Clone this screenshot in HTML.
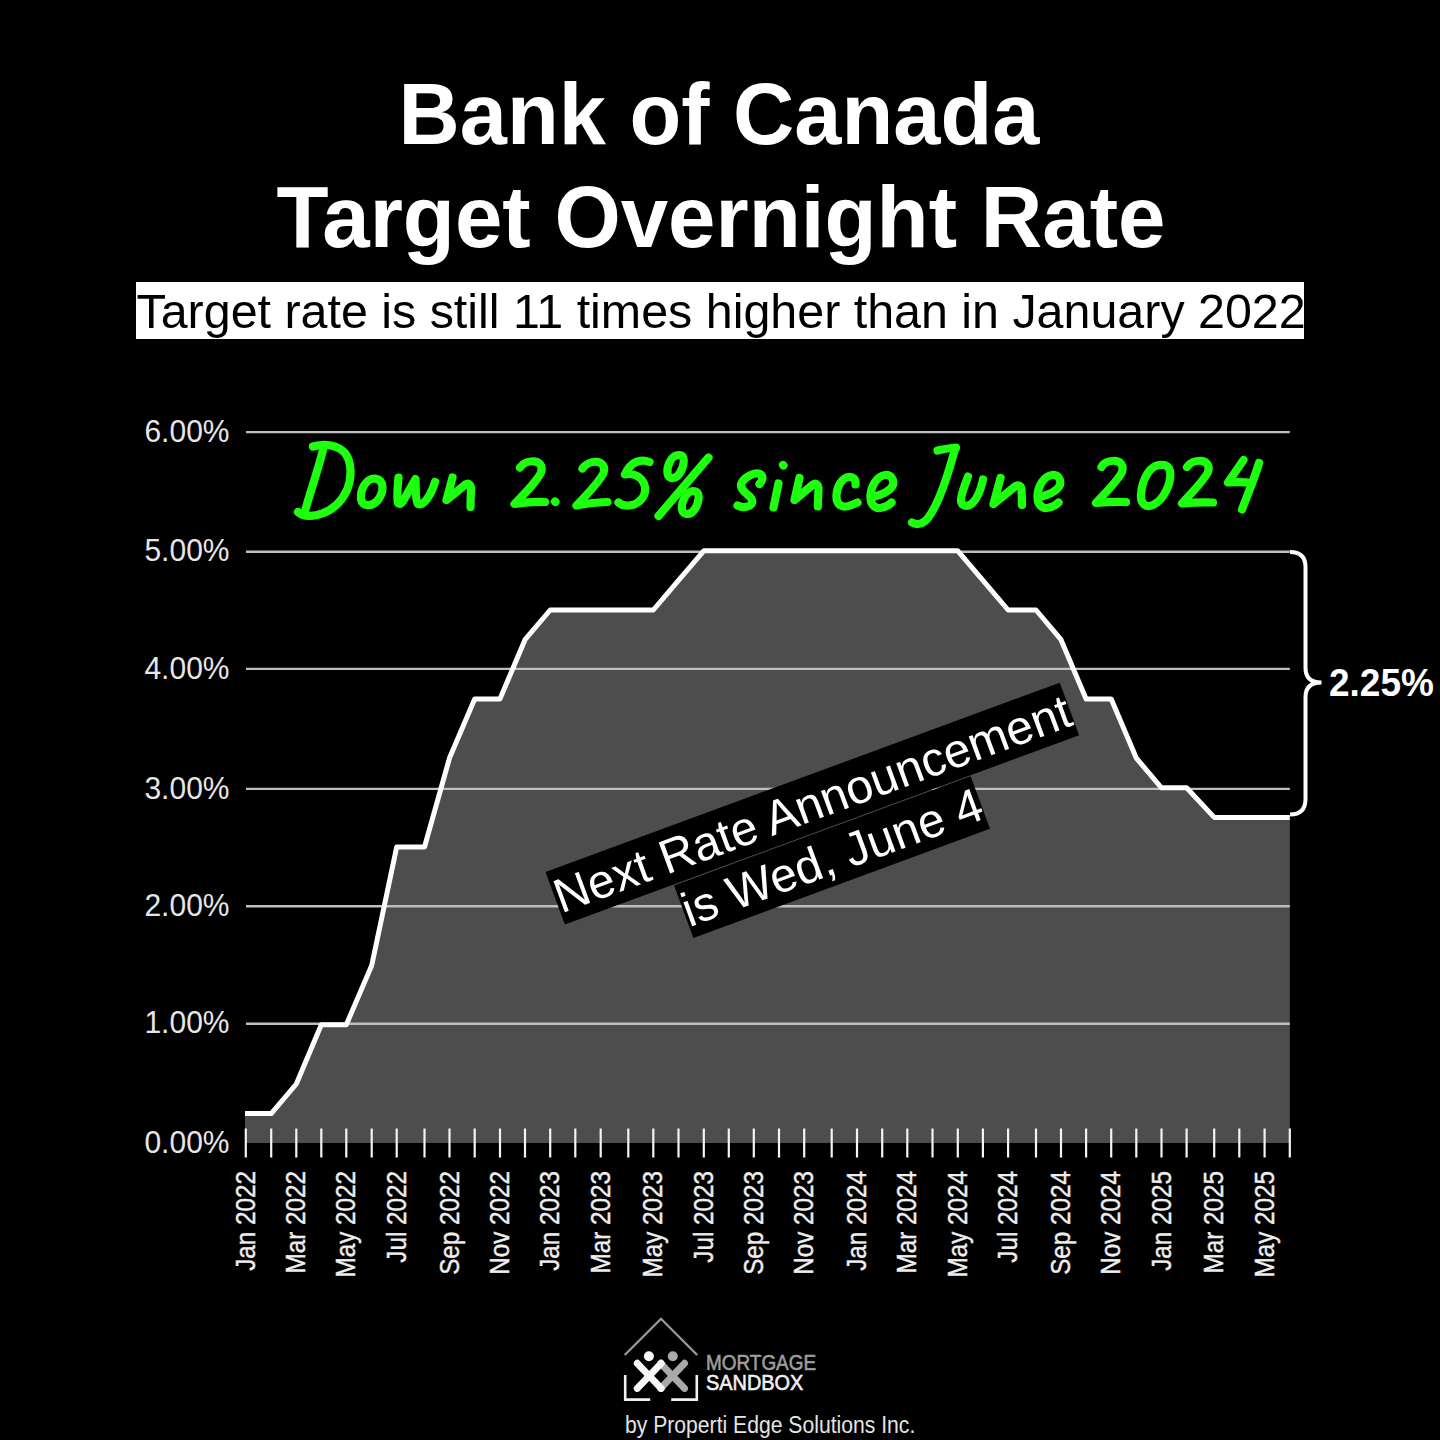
<!DOCTYPE html>
<html><head><meta charset="utf-8"><style>
*{margin:0;padding:0;box-sizing:border-box}
html,body{width:1440px;height:1440px;background:#000;overflow:hidden}
body{position:relative;font-family:"Liberation Sans",sans-serif;color:#fff}
.t{position:absolute;left:0;width:1440px;text-align:center;font-weight:bold;font-size:85px;line-height:85px;white-space:nowrap;color:#fff;transform-origin:720px 71.95px;transform:scale(0.996,1.03)}
.sub{position:absolute;left:136px;top:282px;width:1168px;height:57px;background:#fff}
.sub span{position:absolute;left:0.5px;top:5.3px;font-size:48px;line-height:48px;color:#000;white-space:nowrap}
.yl{position:absolute;right:1210.5px;font-size:30px;line-height:30px;color:#e6e6e6;white-space:nowrap;transform-origin:100% 25.4px;transform:scaleY(1.04)}
.xl{position:absolute;top:1171px;width:0;height:0;transform-origin:0 0;transform:rotate(-90deg) scaleX(0.905)}
.xl span{position:absolute;right:0;top:-12.6px;font-size:26.8px;line-height:26.8px;color:#eee;white-space:nowrap;-webkit-text-stroke:0.4px #eee}
.sub span{font-size:48.4px !important}
.lg{position:absolute;white-space:nowrap;transform-origin:0 0}
.r225{position:absolute;left:1329px;font-weight:bold;font-size:37px;line-height:37px;white-space:nowrap;transform-origin:0 31.3px;transform:scaleY(1.027)}
.ann{position:absolute;left:0;top:0;width:800px;text-align:center;font-size:48px;line-height:57px;transform-origin:0 0}
.ann span{background:#000;color:#fff;padding:1.5px 0;white-space:nowrap}
svg{position:absolute;left:0;top:0}
</style></head><body>
<div class="t" style="top:72.25px;left:-1.4px;transform:scale(0.9975,1.03)">Bank of Canada</div>
<div class="t" style="top:174.75px;left:1px;transform:scale(1.003,1.03)">Target Overnight Rate</div>
<div class="sub"><span>Target rate is still 11 times higher than in January 2022</span></div>
<svg width="1440" height="1440" viewBox="0 0 1440 1440">
<path d="M245.0 1113.6 L271.2 1113.6 L296.3 1084.0 L321.3 1024.7 L346.3 1024.7 L371.7 965.5 L396.7 847.0 L424.5 847.0 L449.5 758.1 L474.7 698.9 L500.0 698.9 L525.0 639.7 L550.2 610.0 L575.3 610.0 L600.7 610.0 L628.3 610.0 L653.3 610.0 L678.5 580.4 L703.8 550.8 L728.8 550.8 L753.8 550.8 L779.0 550.8 L804.2 550.8 L831.7 550.8 L857.0 550.8 L882.2 550.8 L907.3 550.8 L932.5 550.8 L957.8 550.8 L982.9 580.4 L1008.1 610.0 L1036.0 610.0 L1061.0 639.7 L1086.1 698.9 L1111.2 698.9 L1136.3 758.1 L1161.5 787.8 L1186.6 787.8 L1214.2 817.4 L1239.3 817.4 L1264.6 817.4 L1289.8 817.4 L1289.8 1143 L245.0 1143 Z" fill="#4d4d4d"/>
<line x1="246" y1="1023.7" x2="1289.8" y2="1023.7" stroke="#bebebe" stroke-width="2.4"/>
<line x1="246" y1="906.3" x2="1289.8" y2="906.3" stroke="#bebebe" stroke-width="2.4"/>
<line x1="246" y1="788.9" x2="1289.8" y2="788.9" stroke="#bebebe" stroke-width="2.4"/>
<line x1="246" y1="668.9" x2="1289.8" y2="668.9" stroke="#bebebe" stroke-width="2.4"/>
<line x1="246" y1="551.7" x2="1289.8" y2="551.7" stroke="#bebebe" stroke-width="2.4"/>
<line x1="246" y1="432.1" x2="1289.8" y2="432.1" stroke="#bebebe" stroke-width="2.4"/>
<line x1="245.8" y1="1128.5" x2="245.8" y2="1157.5" stroke="#f4f4f4" stroke-width="2.2"/>
<line x1="271.2" y1="1128.5" x2="271.2" y2="1157.5" stroke="#f4f4f4" stroke-width="2.2"/>
<line x1="296.3" y1="1128.5" x2="296.3" y2="1157.5" stroke="#f4f4f4" stroke-width="2.2"/>
<line x1="321.3" y1="1128.5" x2="321.3" y2="1157.5" stroke="#f4f4f4" stroke-width="2.2"/>
<line x1="346.3" y1="1128.5" x2="346.3" y2="1157.5" stroke="#f4f4f4" stroke-width="2.2"/>
<line x1="371.7" y1="1128.5" x2="371.7" y2="1157.5" stroke="#f4f4f4" stroke-width="2.2"/>
<line x1="396.7" y1="1128.5" x2="396.7" y2="1157.5" stroke="#f4f4f4" stroke-width="2.2"/>
<line x1="424.5" y1="1128.5" x2="424.5" y2="1157.5" stroke="#f4f4f4" stroke-width="2.2"/>
<line x1="449.5" y1="1128.5" x2="449.5" y2="1157.5" stroke="#f4f4f4" stroke-width="2.2"/>
<line x1="474.7" y1="1128.5" x2="474.7" y2="1157.5" stroke="#f4f4f4" stroke-width="2.2"/>
<line x1="500" y1="1128.5" x2="500" y2="1157.5" stroke="#f4f4f4" stroke-width="2.2"/>
<line x1="525" y1="1128.5" x2="525" y2="1157.5" stroke="#f4f4f4" stroke-width="2.2"/>
<line x1="550.2" y1="1128.5" x2="550.2" y2="1157.5" stroke="#f4f4f4" stroke-width="2.2"/>
<line x1="575.3" y1="1128.5" x2="575.3" y2="1157.5" stroke="#f4f4f4" stroke-width="2.2"/>
<line x1="600.7" y1="1128.5" x2="600.7" y2="1157.5" stroke="#f4f4f4" stroke-width="2.2"/>
<line x1="628.3" y1="1128.5" x2="628.3" y2="1157.5" stroke="#f4f4f4" stroke-width="2.2"/>
<line x1="653.3" y1="1128.5" x2="653.3" y2="1157.5" stroke="#f4f4f4" stroke-width="2.2"/>
<line x1="678.5" y1="1128.5" x2="678.5" y2="1157.5" stroke="#f4f4f4" stroke-width="2.2"/>
<line x1="703.8" y1="1128.5" x2="703.8" y2="1157.5" stroke="#f4f4f4" stroke-width="2.2"/>
<line x1="728.8" y1="1128.5" x2="728.8" y2="1157.5" stroke="#f4f4f4" stroke-width="2.2"/>
<line x1="753.8" y1="1128.5" x2="753.8" y2="1157.5" stroke="#f4f4f4" stroke-width="2.2"/>
<line x1="779" y1="1128.5" x2="779" y2="1157.5" stroke="#f4f4f4" stroke-width="2.2"/>
<line x1="804.2" y1="1128.5" x2="804.2" y2="1157.5" stroke="#f4f4f4" stroke-width="2.2"/>
<line x1="831.7" y1="1128.5" x2="831.7" y2="1157.5" stroke="#f4f4f4" stroke-width="2.2"/>
<line x1="857" y1="1128.5" x2="857" y2="1157.5" stroke="#f4f4f4" stroke-width="2.2"/>
<line x1="882.2" y1="1128.5" x2="882.2" y2="1157.5" stroke="#f4f4f4" stroke-width="2.2"/>
<line x1="907.3" y1="1128.5" x2="907.3" y2="1157.5" stroke="#f4f4f4" stroke-width="2.2"/>
<line x1="932.5" y1="1128.5" x2="932.5" y2="1157.5" stroke="#f4f4f4" stroke-width="2.2"/>
<line x1="957.8" y1="1128.5" x2="957.8" y2="1157.5" stroke="#f4f4f4" stroke-width="2.2"/>
<line x1="982.9" y1="1128.5" x2="982.9" y2="1157.5" stroke="#f4f4f4" stroke-width="2.2"/>
<line x1="1008.1" y1="1128.5" x2="1008.1" y2="1157.5" stroke="#f4f4f4" stroke-width="2.2"/>
<line x1="1036" y1="1128.5" x2="1036" y2="1157.5" stroke="#f4f4f4" stroke-width="2.2"/>
<line x1="1061" y1="1128.5" x2="1061" y2="1157.5" stroke="#f4f4f4" stroke-width="2.2"/>
<line x1="1086.1" y1="1128.5" x2="1086.1" y2="1157.5" stroke="#f4f4f4" stroke-width="2.2"/>
<line x1="1111.2" y1="1128.5" x2="1111.2" y2="1157.5" stroke="#f4f4f4" stroke-width="2.2"/>
<line x1="1136.3" y1="1128.5" x2="1136.3" y2="1157.5" stroke="#f4f4f4" stroke-width="2.2"/>
<line x1="1161.5" y1="1128.5" x2="1161.5" y2="1157.5" stroke="#f4f4f4" stroke-width="2.2"/>
<line x1="1186.6" y1="1128.5" x2="1186.6" y2="1157.5" stroke="#f4f4f4" stroke-width="2.2"/>
<line x1="1214.2" y1="1128.5" x2="1214.2" y2="1157.5" stroke="#f4f4f4" stroke-width="2.2"/>
<line x1="1239.3" y1="1128.5" x2="1239.3" y2="1157.5" stroke="#f4f4f4" stroke-width="2.2"/>
<line x1="1264.6" y1="1128.5" x2="1264.6" y2="1157.5" stroke="#f4f4f4" stroke-width="2.2"/>
<line x1="1289.8" y1="1128.5" x2="1289.8" y2="1157.5" stroke="#f4f4f4" stroke-width="2.2"/>
<path d="M245.0 1113.6 L271.2 1113.6 L296.3 1084.0 L321.3 1024.7 L346.3 1024.7 L371.7 965.5 L396.7 847.0 L424.5 847.0 L449.5 758.1 L474.7 698.9 L500.0 698.9 L525.0 639.7 L550.2 610.0 L575.3 610.0 L600.7 610.0 L628.3 610.0 L653.3 610.0 L678.5 580.4 L703.8 550.8 L728.8 550.8 L753.8 550.8 L779.0 550.8 L804.2 550.8 L831.7 550.8 L857.0 550.8 L882.2 550.8 L907.3 550.8 L932.5 550.8 L957.8 550.8 L982.9 580.4 L1008.1 610.0 L1036.0 610.0 L1061.0 639.7 L1086.1 698.9 L1111.2 698.9 L1136.3 758.1 L1161.5 787.8 L1186.6 787.8 L1214.2 817.4 L1239.3 817.4 L1264.6 817.4 L1289.8 817.4" fill="none" stroke="#ffffff" stroke-width="5" stroke-linejoin="round"/>
<g>
<polyline points="624.7,1355 661,1318.8 697.2,1355" fill="none" stroke="#9a9a9a" stroke-width="2.3"/>
<polyline points="625.2,1375 625.2,1399.6 650.2,1399.6" fill="none" stroke="#f0f0f0" stroke-width="2.6"/>
<polyline points="671.2,1399.6 696.8,1399.6 696.8,1375" fill="none" stroke="#f0f0f0" stroke-width="2.6"/>
<g stroke="#a9a9a9" stroke-width="7" stroke-linecap="round"><line x1="660.6" y1="1363.3" x2="684.5" y2="1388.4"/><line x1="684.5" y1="1363.3" x2="660.6" y2="1388.4"/></g>
<circle cx="672.8" cy="1356.3" r="5" fill="#a9a9a9"/>
<g stroke="#f8f8f8" stroke-width="7" stroke-linecap="round"><line x1="637.3" y1="1363.3" x2="661.2" y2="1388.4"/><line x1="661.2" y1="1363.3" x2="637.3" y2="1388.4"/></g>
<circle cx="648.9" cy="1356.3" r="5" fill="#f8f8f8"/>
</g>
<g fill="none" stroke="#1eff10" stroke-width="8.2" stroke-linecap="round" stroke-linejoin="round"><path d="M323 450 C318 470 310 493 305 511"/><path d="M313 446.5 C325 443 338 445 345 453 C352 462 352 478 347 490 C341 503 330 512 317 515 C309 516.5 302 516 298 512"/><path d="M375 478.5 C366 478 360 490 361 499 C362 507 372 507 378 500 C384 492 385 480 375 478.5 Z"/><path d="M398.5 477.5 C397.5 488 396.5 498 398 503 C400 506 403 502 406 496 L415.5 479 C416 490 415 500 418 504 C424 506 431 495 435 482"/><path d="M452.5 477.5 L446.5 500 L465.5 484.5 C468.5 482.5 471 484.5 471 489 C470.8 495 470.5 501 470.5 507"/><path d="M520 467.5 C523 463 529 461 534 461.3 C540 461.6 543 466.5 541 472.5 C538 479.5 529 489 514.5 504 C524 502.5 535 501.5 545 502"/><path d="M555 501.5 L555.5 502"/><path d="M582.5 468.5 C585.5 464 591.5 461.5 596.5 461.8 C602.5 462.1 605.5 467 603.5 473 C600.5 480 591.5 490 576.5 505.5 C586 503.5 597 502.5 607.5 502"/><path d="M649.5 462 C641 458.5 631 461 625 474.5 C634 472.5 643 477 645 487 C646.5 497 638 505 629 505.5 C624 505.8 620.5 504.5 618.5 502.5"/><path d="M679.5 455 C671.5 454.5 666.5 466 667.5 473.5 C668.5 480 676.5 479.5 680.5 472 C684.5 464.5 685.5 455.5 679.5 455 Z"/><path d="M708.5 457.5 L658.5 516"/><path d="M693.5 491 C685.5 491 681 503 682 509.5 C683 516 691.5 515.5 695.5 508 C699.5 500.5 700.5 491.5 693.5 491 Z"/><path d="M759.5 484 C762.5 481 764 476 760 474 C755 472 746 476 742 482 C739 487 743 491 748 495 C753 499 754 503.5 749 506 C745 507.5 740.5 507 737.5 505.5"/><path d="M778.5 483.5 L773.5 507.5"/><path d="M783 465 L783.5 465.5"/><path d="M799.5 478 L794.5 500 L813 484.5 C816 482.5 818.5 484.5 818.5 489 C818.3 495 818 501 817.8 506.5"/><path d="M855.5 484.5 C856 479 853 476.5 848.5 477 C842 478 837 486 836.5 495 C836 503 840 507 846 506.5 C850 506 854 504 857.5 502.5"/><path d="M873 497 C880 495 890 492 893 485 C894.5 478 890 474.5 885 475 C877 476 871 486 870.5 495 C870 504 874 508.5 880 508 C885 507.5 889 505 891.5 502.5"/><path d="M937.5 450.5 C944 449 950 448 956 447.5"/><path d="M955 449 C948 475 938 505 928 518 C924 523 918 526 912 522.5"/><path d="M968 476.5 C965 485 960.5 495 961 501 C961.5 506 967 507.5 972 503.5 C977 499 981 489 983 479.5"/><path d="M1000.5 478 L993.5 504 L1015 486.5 C1018 484.5 1021.5 485.5 1021.5 490 C1021.8 496 1022 500 1022 505"/><path d="M1040 497 C1047 495 1057 492 1060 485 C1061.5 478 1057 474.5 1052 475 C1044 476 1038 486 1037.5 495 C1037 504 1041 508.5 1047 508 C1052 507.5 1056 505 1058.5 502.5"/><path d="M1101.5 467 C1104 462.5 1110 460.5 1115 460.8 C1121 461.2 1124 466 1122 472 C1119 479 1110 488 1096 503 C1106 502 1117 501.5 1126 502"/><path d="M1162 465 C1150 463.5 1142 480 1141 494 C1140 504 1146 508 1153 505 C1164 500 1172 482 1170 471 C1169 467 1166 464.5 1162 465 Z"/><path d="M1187 467 C1190 462.5 1196 460.5 1201 460.8 C1207 461.2 1210 466 1208 472 C1205 479 1196 488 1182 503.5 C1192 502.5 1203 502 1213 502.5"/><path d="M1243.5 460 L1228 482.5 C1236 482 1244 482 1252 483"/><path d="M1259 463 C1254 480 1247 496 1242 509.5"/></g>
<path d="M1290 552 Q1305.5 552 1305.5 567 L1305.5 668 Q1305.5 682.5 1321.5 682.5 Q1305.5 682.5 1305.5 697 L1305.5 799 Q1305.5 814.5 1290 814.5" fill="none" stroke="#ffffff" stroke-width="4"/>
</svg>
<div class="yl" style="top:1127.7px">0.00%</div>
<div class="yl" style="top:1008.4px">1.00%</div>
<div class="yl" style="top:891.0px">2.00%</div>
<div class="yl" style="top:773.6px">3.00%</div>
<div class="yl" style="top:653.6px">4.00%</div>
<div class="yl" style="top:536.4px">5.00%</div>
<div class="yl" style="top:416.8px">6.00%</div>
<div class="xl" style="left:245.8px"><span>Jan 2022</span></div>
<div class="xl" style="left:296.3px"><span>Mar 2022</span></div>
<div class="xl" style="left:346.3px"><span>May 2022</span></div>
<div class="xl" style="left:396.7px"><span>Jul 2022</span></div>
<div class="xl" style="left:449.5px"><span>Sep 2022</span></div>
<div class="xl" style="left:500.0px"><span>Nov 2022</span></div>
<div class="xl" style="left:550.2px"><span>Jan 2023</span></div>
<div class="xl" style="left:600.7px"><span>Mar 2023</span></div>
<div class="xl" style="left:653.3px"><span>May 2023</span></div>
<div class="xl" style="left:703.8px"><span>Jul 2023</span></div>
<div class="xl" style="left:753.8px"><span>Sep 2023</span></div>
<div class="xl" style="left:804.2px"><span>Nov 2023</span></div>
<div class="xl" style="left:857.0px"><span>Jan 2024</span></div>
<div class="xl" style="left:907.3px"><span>Mar 2024</span></div>
<div class="xl" style="left:957.8px"><span>May 2024</span></div>
<div class="xl" style="left:1008.1px"><span>Jul 2024</span></div>
<div class="xl" style="left:1061.0px"><span>Sep 2024</span></div>
<div class="xl" style="left:1111.2px"><span>Nov 2024</span></div>
<div class="xl" style="left:1161.5px"><span>Jan 2025</span></div>
<div class="xl" style="left:1214.2px"><span>Mar 2025</span></div>
<div class="xl" style="left:1264.6px"><span>May 2025</span></div>
<div class="lg" style="left:705.5px;top:1353.4px;font-size:21.4px;line-height:21.4px;color:#9d9d9d;-webkit-text-stroke:0.6px #9d9d9d;transform:scaleX(0.885)">MORTGAGE</div>
<div class="lg" style="left:705.5px;top:1372.9px;font-size:21.4px;line-height:21.4px;color:#f0f0f0;-webkit-text-stroke:0.6px #f0f0f0;transform:scaleX(0.93)">SANDBOX</div>
<div class="lg" style="left:625px;top:1412.9px;font-size:24.2px;line-height:24.2px;color:#e4e4e4;transform:scaleX(0.874)">by Properti Edge Solutions Inc.</div>
<div class="r225" style="top:664.8px">2.25%</div>
<div class="ann" id="ann" style="transform:translate(422px,772.9px) rotate(-20.2deg) ;transform-origin:400px 57px"><span>Next Rate Announcement</span><br><span>is Wed, June 4</span></div>
</body></html>
